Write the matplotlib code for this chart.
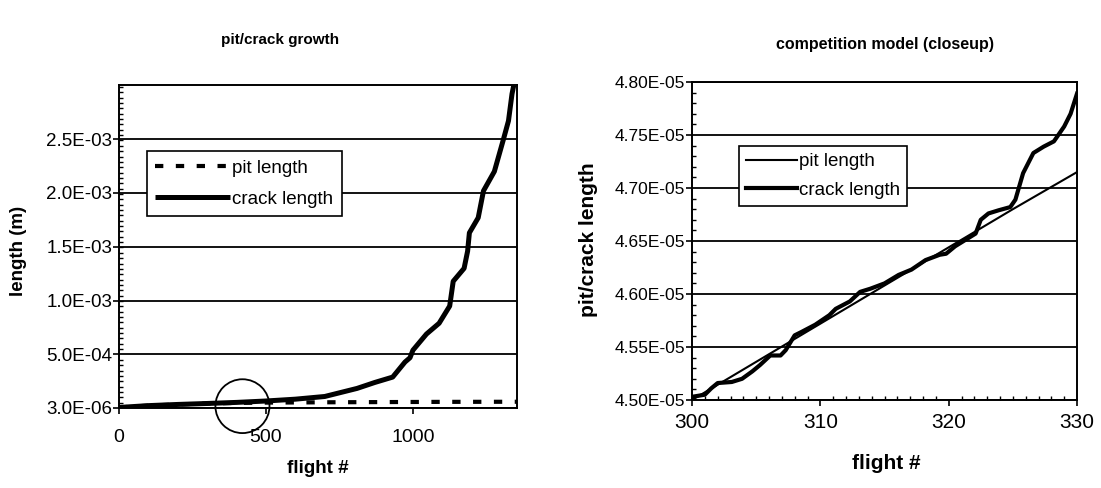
import matplotlib
matplotlib.use("Agg")
import matplotlib.pyplot as plt
from matplotlib.patches import Ellipse
from matplotlib.ticker import FixedLocator, AutoMinorLocator, FuncFormatter

plt.rcParams['font.family'] = ['Liberation Sans', 'DejaVu Sans']

# ---------------- data: left panel (pit/crack growth) ----------------
flight_pit = [0, 100, 200, 300, 400, 500, 700, 900, 1100, 1354]
pit_len = [0.8e-5, 2.5e-5, 3.6e-5, 4.5e-5, 5.0e-5, 5.3e-5, 5.6e-5, 5.8e-5, 6.0e-5, 6.1e-5]

flight_crack = [0, 100, 200, 300, 400, 500, 600, 700, 810, 870, 931, 973, 990,
                1000, 1046, 1089, 1125, 1137, 1174, 1186, 1192, 1222, 1240,
                1277, 1307, 1325, 1337, 1343]
crack_len = [0.8e-5, 2.5e-5, 3.6e-5, 4.5e-5, 5.5e-5, 6.8e-5, 8.5e-5, 1.1e-4,
             1.85e-4, 2.4e-4, 2.9e-4, 4.3e-4, 4.7e-4, 5.4e-4, 6.9e-4, 7.9e-4,
             9.5e-4, 1.18e-3, 1.30e-3, 1.46e-3, 1.63e-3, 1.77e-3, 2.02e-3,
             2.20e-3, 2.49e-3, 2.67e-3, 2.92e-3, 3.0e-3]

left_yticks = [3e-6, 5e-4, 1e-3, 1.5e-3, 2e-3, 2.5e-3]
left_xticks = [0, 500, 1000]

# ---------------- data: right panel (closeup) ----------------
flight_pit_c = [300, 305, 310, 315, 320, 325, 330]
pit_len_c = [4.500e-5, 4.536e-5, 4.572e-5, 4.608e-5, 4.644e-5, 4.680e-5, 4.715e-5]

flight_crack_c = [300, 301, 301.5, 302, 303.1, 303.9, 304.7, 305.3, 306.1, 306.9,
                  307.3, 308, 308.5, 309.6, 310.7, 311.2, 312.3, 313.1, 313.9,
                  315, 316.1, 317.1, 318.2, 319.3, 319.8, 320.5, 321.3, 322.1,
                  322.5, 323.1, 323.9, 324.8, 325.2, 325.8, 326.6, 327.4, 328.2,
                  329, 329.5, 330]
crack_len_c = [4.503e-5, 4.505e-5, 4.511e-5, 4.516e-5, 4.517e-5, 4.520e-5,
               4.527e-5, 4.533e-5, 4.542e-5, 4.542e-5, 4.547e-5, 4.561e-5,
               4.564e-5, 4.571e-5, 4.580e-5, 4.586e-5, 4.593e-5, 4.602e-5,
               4.605e-5, 4.610e-5, 4.618e-5, 4.623e-5, 4.632e-5, 4.637e-5,
               4.638e-5, 4.645e-5, 4.651e-5, 4.657e-5, 4.670e-5, 4.676e-5,
               4.679e-5, 4.682e-5, 4.689e-5, 4.714e-5, 4.733e-5, 4.739e-5,
               4.744e-5, 4.758e-5, 4.770e-5, 4.789e-5]

right_yticks = [4.50e-5, 4.55e-5, 4.60e-5, 4.65e-5, 4.70e-5, 4.75e-5, 4.80e-5]
right_xticks = [300, 310, 320, 330]

# highlight circle on the left panel
circle_flight = 420
circle_len = 2.0e-5
circle_w = 184
circle_h = 5.0e-4

W, H = 1101, 488
fig = plt.figure(figsize=(W / 100, H / 100), dpi=100)

def frac(x0, x1, ytop, ybot):
    return [x0 / W, 1 - ybot / H, (x1 - x0) / W, (ybot - ytop) / H]

# ---------------- left axes ----------------
ax1 = fig.add_axes(frac(119, 517, 85, 408))
ax1.plot(flight_pit, pit_len, color='black', lw=3.0, ls=(0, (2, 3)), label='pit length')
ax1.plot(flight_crack, crack_len, color='black', lw=3.6, label='crack length',
         solid_capstyle='butt')
ax1.set_xlim(0, 1354)
ax1.set_ylim(3e-6, 3.003e-3)
ax1.yaxis.set_major_locator(FixedLocator(left_yticks))
ax1.xaxis.set_major_locator(FixedLocator(left_xticks))
ax1.yaxis.set_major_formatter(FuncFormatter(lambda v, p: f"{v:.1E}"))
ax1.yaxis.set_minor_locator(AutoMinorLocator(10))
ax1.tick_params(axis='y', which='major', direction='out', length=4, width=1.2,
                pad=1, labelsize=13.5)
ax1.tick_params(axis='y', which='minor', direction='in', length=3, width=1.0)
ax1.tick_params(axis='x', which='major', direction='out', length=4, width=1.2,
                pad=11, labelsize=14)
ax1.grid(axis='y', which='major', color='black', lw=1.3)
for s in ax1.spines.values():
    s.set_linewidth(1.4)
ax1.set_xlabel('flight #', fontsize=13.5, fontweight='bold')
ax1.set_ylabel('length (m)', fontsize=13.5, fontweight='bold')
ax1.xaxis.set_label_coords(0.5, -0.16)
ax1.yaxis.set_label_coords(-0.232, 0.486)
leg1 = ax1.legend(loc='upper left', bbox_to_anchor=(0.07, 0.795), fontsize=13.5,
                  frameon=True, fancybox=False, shadow=False, handlelength=4.0,
                  handletextpad=0.1, borderpad=0.45, labelspacing=0.75,
                  borderaxespad=0)
leg1.get_frame().set_edgecolor('black')
leg1.get_frame().set_linewidth(1.2)
leg1.get_frame().set_alpha(1)
ax1.add_patch(Ellipse((circle_flight, circle_len), circle_w, circle_h,
                      fill=False, edgecolor='black', lw=1.3, clip_on=False))

# ---------------- right axes ----------------
ax2 = fig.add_axes(frac(692, 1077, 82, 400))
ax2.plot(flight_pit_c, pit_len_c, color='black', lw=1.5, label='pit length')
ax2.plot(flight_crack_c, crack_len_c, color='black', lw=3.0, label='crack length')
ax2.set_xlim(300, 330)
ax2.set_ylim(4.5e-5, 4.8e-5)
ax2.yaxis.set_major_locator(FixedLocator(right_yticks))
ax2.xaxis.set_major_locator(FixedLocator(right_xticks))
ax2.yaxis.set_major_formatter(FuncFormatter(lambda v, p: f"{v:.2E}"))
ax2.yaxis.set_minor_locator(AutoMinorLocator(5))
ax2.xaxis.set_minor_locator(AutoMinorLocator(10))
ax2.tick_params(axis='y', which='major', direction='out', length=4, width=1.2,
                pad=1, labelsize=12.5)
ax2.tick_params(axis='y', which='minor', direction='in', length=3, width=1.0)
ax2.tick_params(axis='x', which='major', direction='out', length=4, width=1.2,
                pad=5, labelsize=15)
ax2.tick_params(axis='x', which='minor', direction='in', length=3, width=1.0)
ax2.grid(axis='y', which='major', color='black', lw=1.3)
for s in ax2.spines.values():
    s.set_linewidth(1.4)
ax2.set_xlabel('flight #', fontsize=15, fontweight='bold')
ax2.set_ylabel('pit/crack length', fontsize=15, fontweight='bold')
ax2.xaxis.set_label_coords(0.504, -0.17)
ax2.yaxis.set_label_coords(-0.244, 0.503)
leg2 = ax2.legend(loc='upper left', bbox_to_anchor=(0.121, 0.8), fontsize=13.5,
                  frameon=True, fancybox=False, shadow=False, handlelength=2.7,
                  handletextpad=0.1, borderpad=0.4, labelspacing=0.6,
                  borderaxespad=0)
leg2.get_frame().set_edgecolor('black')
leg2.get_frame().set_linewidth(1.2)
leg2.get_frame().set_alpha(1)

# ---------------- titles ----------------
fig.text(280 / W, 1 - 40 / H, 'pit/crack growth', ha='center', va='center',
         fontsize=11, fontweight='bold')
fig.text(885 / W, 1 - 45 / H, 'competition model (closeup)', ha='center',
         va='center', fontsize=11.5, fontweight='bold')

fig.savefig('out.png', dpi=100)
